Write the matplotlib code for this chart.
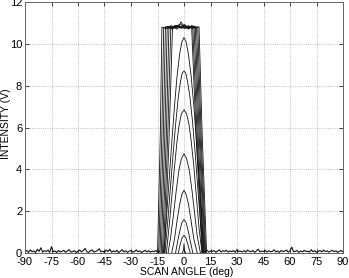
import numpy as np
import matplotlib
matplotlib.use('Agg')
from matplotlib import pyplot as plt

plt.rcParams['font.family'] = ['Liberation Sans', 'DejaVu Sans']
plt.rcParams['axes.unicode_minus'] = False

# unsaturated arches (angle deg, intensity V)
arch_x = [
    [-1.0, -0.3, 0.0, 0.3, 1.0],
    [-3.2, -2.2, -1.1, 0.0, 1.1, 2.2, 3.5],
    [-4.8, -3.6, -2.4, -1.2, 0.0, 1.2, 2.4, 3.6, 5.0],
    [-7.0, -5.5, -4.0, -2.5, -1.2, 0.0, 1.2, 2.5, 4.0, 5.5, 7.5],
    [-9.0, -7.5, -6.0, -4.5, -3.0, -1.5, 0.0, 1.5, 3.0, 4.5, 6.0, 7.5, 9.3],
    [-10.0, -8.5, -7.0, -5.5, -4.0, -2.8, -1.5, 0.0, 1.5, 2.8, 4.0, 5.5, 7.0, 8.5, 10.2],
    [-10.8, -9.3, -7.8, -6.3, -4.8, -3.3, -2.0, -1.0, 0.0, 1.0, 2.0, 3.3, 4.8, 6.3, 7.8, 9.3, 10.8],
    [-11.5, -10.0, -8.5, -7.0, -5.5, -4.0, -2.5, -1.2, 0.0, 1.2, 2.5, 4.0, 5.5, 7.0, 8.5, 10.0, 11.3],
]
arch_y = [
    [0.0, 0.12, 0.45, 0.12, 0.0],
    [0.0, 0.40, 0.72, 0.85, 0.72, 0.40, 0.0],
    [0.0, 0.55, 1.05, 1.45, 1.60, 1.45, 1.05, 0.55, 0.0],
    [0.0, 0.60, 1.50, 2.30, 2.80, 3.00, 2.80, 2.35, 1.55, 0.70, 0.0],
    [0.0, 0.80, 1.80, 2.90, 3.90, 4.50, 4.75, 4.50, 3.95, 3.00, 1.90, 0.80, 0.0],
    [0.0, 1.20, 2.60, 4.00, 5.30, 6.10, 6.65, 6.85, 6.65, 6.15, 5.40, 4.20, 2.70, 1.20, 0.0],
    [0.0, 1.40, 3.00, 4.60, 6.10, 7.40, 8.20, 8.60, 8.70, 8.60, 8.20, 7.50, 6.30, 4.80, 3.10, 1.50, 0.0],
    [0.0, 1.60, 3.40, 5.20, 6.90, 8.40, 9.50, 10.10, 10.30, 10.10, 9.50, 8.50, 7.10, 5.40, 3.60, 1.70, 0.0],
]

# saturated curves: base/top edges (deg) and flat top (V)
sat_left_base = [-15.0, -14.3, -13.6, -12.9, -12.2, -11.6, -11.0]
sat_left_top = [-12.5, -11.5, -10.5, -9.5, -8.5, -7.5, -6.5]
sat_right_top = [8.5, 7.8, 7.1, 6.4, 5.7, 5.0, 4.3]
sat_right_base = [12.8, 12.3, 11.9, 11.5, 11.0, 10.6, 10.2]
sat_tops = [
    [10.80, 10.72, 10.86, 10.78, 10.95, 10.74, 10.84, 10.76, 10.82],
    [10.76, 10.84, 10.70, 10.88, 10.80, 10.90, 10.72, 10.85, 10.78],
    [10.82, 10.74, 10.80, 10.70, 11.05, 10.78, 10.86, 10.74, 10.80],
    [10.78, 10.86, 10.76, 10.84, 10.74, 10.82, 10.70, 10.88, 10.76],
    [10.84, 10.72, 10.82, 10.90, 10.78, 10.74, 10.86, 10.78, 10.84],
    [10.74, 10.80, 10.88, 10.76, 10.84, 10.92, 10.76, 10.82, 10.72],
    [10.80, 10.88, 10.74, 10.82, 10.78, 10.86, 10.80, 10.74, 10.86],
]

# baseline noise
noise_left_x = np.arange(-90, -13)
noise_left = [0.05, 0.12, 0.03, 0.15, 0.06, 0.10, 0.02, 0.18, 0.08, 0.25, 0.04, 0.11, 0.07, 0.14, 0.03, 0.30, 0.06, 0.09, 0.02, 0.12,
              0.05, 0.08, 0.13, 0.03, 0.10, 0.16, 0.04, 0.07, 0.11, 0.02, 0.09, 0.14, 0.05, 0.12, 0.22, 0.06, 0.03, 0.10, 0.15, 0.04,
              0.08, 0.12, 0.20, 0.05, 0.09, 0.03, 0.14, 0.07, 0.18, 0.04, 0.10, 0.06, 0.13, 0.02, 0.08, 0.16, 0.05, 0.11, 0.03, 0.09,
              0.12, 0.04, 0.07, 0.15, 0.06, 0.10, 0.02, 0.08, 0.13, 0.05, 0.11, 0.04, 0.09, 0.06, 0.12, 0.03, 0.07]
noise_right_x = np.arange(12, 91)
noise_right = [0.06, 0.14, 0.04, 0.10, 0.07, 0.12, 0.03, 0.09, 0.15, 0.05, 0.11, 0.08, 0.13, 0.04, 0.10, 0.06, 0.12, 0.03, 0.16, 0.07,
               0.09, 0.05, 0.11, 0.04, 0.14, 0.08, 0.06, 0.12, 0.03, 0.10, 0.18, 0.05, 0.09, 0.07, 0.13, 0.04, 0.11, 0.06, 0.08, 0.15,
               0.05, 0.10, 0.03, 0.12, 0.07, 0.09, 0.14, 0.04, 0.11, 0.28, 0.06, 0.08, 0.12, 0.03, 0.10, 0.05, 0.13, 0.07, 0.09, 0.04,
               0.16, 0.06, 0.11, 0.03, 0.08, 0.12, 0.05, 0.14, 0.07, 0.10, 0.04, 0.09, 0.13, 0.06, 0.11, 0.03, 0.08, 0.12, 0.05]

xticks = [-90, -75, -60, -45, -30, -15, 0, 15, 30, 45, 60, 75, 90]
yticks = [0, 2, 4, 6, 8, 10, 12]

W, H = 349, 278
fig = plt.figure(figsize=(W / 100, H / 100), dpi=100)
ax = fig.add_axes([25 / W, (H - 253) / H, 318 / W, 251 / H])

lc = '#111111'
lw = 0.6
for xs, ys in zip(arch_x, arch_y):
    ax.plot(xs, ys, color=lc, lw=lw)

for lb, lt, rt, rb, top in zip(sat_left_base, sat_left_top, sat_right_top, sat_right_base, sat_tops):
    px = np.linspace(lt, rt, len(top))
    xs = [lb, (lb + lt) / 2 + 0.3] + list(px) + [(rt + rb) / 2 - 0.3, rb]
    ys = [0, 5.5] + top + [5.5, 0]
    ax.plot(xs, ys, color=lc, lw=lw)

ax.plot(noise_left_x, noise_left, color=lc, lw=0.8)
ax.plot(noise_right_x, noise_right, color=lc, lw=0.8)
ax.plot([-14, 12], [0.02, 0.02], color=lc, lw=0.8)

ax.set_xlim(-90, 90)
ax.set_ylim(0, 12)
ax.set_xticks(xticks)
ax.set_yticks(yticks)
ax.tick_params(direction='in', top=True, right=True, length=3, width=0.5, labelsize=8, pad=2)
ax.tick_params(axis='x', pad=3)
ax.grid(True, linestyle=':', color='#aaaaaa', linewidth=0.6)
ax.set_axisbelow(True)
for s in ax.spines.values():
    s.set_linewidth(0.7)
    s.set_color('#666666')

fig.text(187 / W, 1 - 272 / H, 'SCAN ANGLE (deg)', fontsize=7.5, ha='center', va='center')
fig.text(6 / W, 1 - 124 / H, 'INTENSITY (V)', fontsize=7.5, ha='center', va='center', rotation=90)

fig.savefig('out.png', dpi=100)
